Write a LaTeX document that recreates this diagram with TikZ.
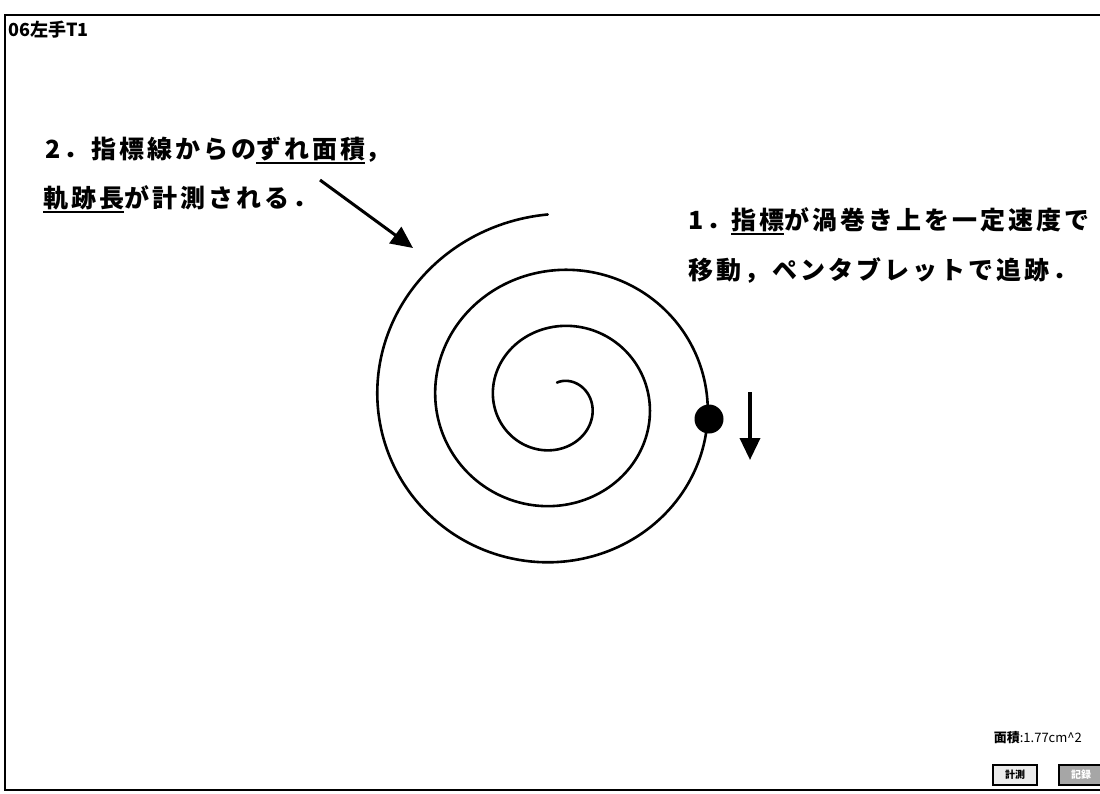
\documentclass[tikz,border=0pt]{standalone}
\usepackage{fontspec}
\setmainfont{Liberation Sans}
\newfontfamily\jp[LetterSpace=12]{Noto Sans CJK JP}
\newfontfamily\jps{Noto Sans CJK JP}
\usetikzlibrary{arrows.meta}
\newcommand\myul[1]{\setbox0\hbox{#1}\rlap{\rule[-6pt]{\wd0}{2.2pt}}\box0}
\tikzset{
  bigtxt/.style={anchor=base west, inner sep=0pt, font=\jp\bfseries\fontsize{25}{30}\selectfont},
  spiralline/.style={line width=2.6pt, line cap=round, line join=round},
  pointer/.style={line width=3pt, -{Triangle[length=22pt,width=20pt]}},
  framebox/.style={line width=1.8pt},
  btn/.style={draw, line width=1.4pt, minimum width=44pt, minimum height=20pt, inner sep=0pt, font=\jps\bfseries\fontsize{10}{12}\selectfont}
}
\begin{document}
\begin{tikzpicture}[x=1pt,y=-1pt]
\useasboundingbox (0,0) rectangle (1100,793);
\fill[white] (0,0) rectangle (1100,793);
% frame
\draw[framebox] (1102,15) -- (5,15) -- (5,790) -- (1102,790);
% title
\node[anchor=base west, inner sep=0pt, font=\jps\bfseries\fontsize{18}{20}\selectfont] (title) at (8,36) {06左手T1};
% texts
\node[bigtxt] (t2a) at (45,158) {2．指標線からの\myul{ずれ面積}，};
\node[bigtxt] (t2b) at (43,207) {\myul{軌跡長}が計測される．};
\node[bigtxt] (t1a) at (688,229) {1．\myul{指標}が渦巻き上を一定速度で};
\node[bigtxt] (t1b) at (688,279) {移動，ペンタブレットで追跡．};
% spiral (parameter in turns)
\draw[spiralline] plot[domain=0:2.994, samples=500, smooth]
  ({557 + (20+58*\x)*sin(360*\x)}, {402 - 0.97*(20+58*\x)*cos(360*\x)});
% dot
\node[circle, fill=black, minimum size=29pt, inner sep=0pt] (dot) at (709,419) {};
% arrows
\coordinate (a2s) at (320,180);
\coordinate (a2e) at (413,248);
\draw[pointer] (a2s) -- (a2e);
\coordinate (a1s) at (750,392);
\coordinate (a1e) at (750,460);
\draw[pointer, line width=3.6pt] (a1s) -- (a1e);
% bottom right
\node[anchor=base east, inner sep=0pt, font=\jps\fontsize{13}{15}\selectfont] (area) at (1082,742) {{\bfseries 面積}:1.77cm\textasciicircum 2};
\node[btn, fill=gray!15] (b1) at (1015,775) {計測};
\node[btn, fill=gray!70, text=white] (b2) at (1081,775) {記録};
\end{tikzpicture}
\end{document}
